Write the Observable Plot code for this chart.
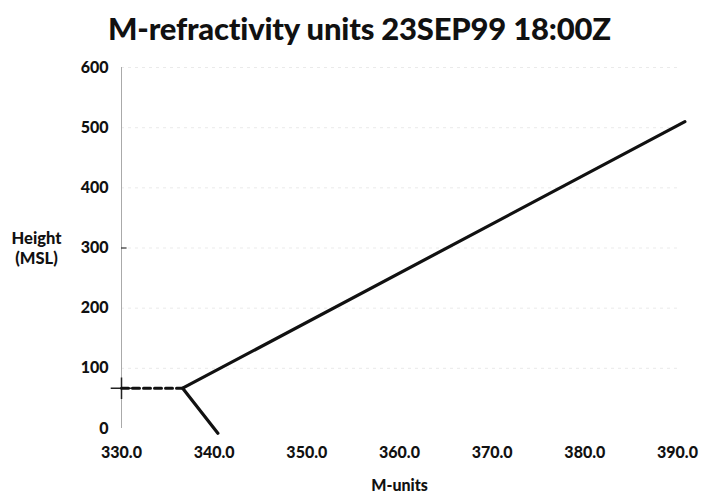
<!DOCTYPE html>
<html>
<head>
<meta charset="utf-8">
<script src="https://cdn.jsdelivr.net/npm/d3@7"></script>
<script src="https://cdn.jsdelivr.net/npm/@observablehq/plot@0.6"></script>
<style>
  html, body { margin: 0; padding: 0; background: #fff; }
  #title { height: 55px; box-sizing: border-box; padding-top: 12px; text-align: center; padding-left: 14px;
    font-family: Lato, "Open Sans", sans-serif; font-weight: 900; font-size: 31px; line-height: 32px; color: #111; letter-spacing: -0.2px; }
  #chart svg { display: block; }
</style>
</head>
<body>
<div id="title">M-refractivity units 23SEP99 18:00Z</div>
<div id="chart"></div>
<script>
// Data
const xTicks = [330, 340, 350, 360, 370, 380, 390];
const yTicks = [0, 100, 200, 300, 400, 500, 600];
const profileM = [340.4, 336.6, 390.8];   // M-units
const profileH = [-8, 67, 510];           // height (MSL)
const trapM = [330, 336.6];               // dashed segment
const trapH = [67, 67];
const markerM = [330];
const markerH = [67];
const xLabel = "M-units";
const yLabel = "Height\n(MSL)";

const profile = profileM.map((m, i) => ({m, h: profileH[i]}));
const trap = trapM.map((m, i) => ({m, h: trapH[i]}));
const marker = markerM.map((m, i) => ({m, h: markerH[i]}));

const chart = Plot.plot({
  width: 705,
  height: 440,
  marginTop: 12,
  marginBottom: 67,
  marginLeft: 121,
  marginRight: 28,
  style: {fontFamily: "Lato, 'Open Sans', sans-serif", fontWeight: "900", fontSize: "16px", color: "#111", overflow: "visible"},
  x: {type: "linear", domain: [330, 390], ticks: xTicks, tickFormat: d => d.toFixed(1)},
  y: {type: "linear", domain: [0, 600], ticks: yTicks},
  marks: [
    Plot.ruleY(yTicks.slice(1), {stroke: "#bbb", strokeOpacity: 0.3, strokeDasharray: "3,4"}),
    Plot.ruleX([330], {y1: 0, y2: 600, stroke: "#aaa", strokeWidth: 1}),
    Plot.axisX({ticks: xTicks, tickFormat: d => d.toFixed(1), tickSize: 0, tickPadding: 18,
      label: xLabel, labelAnchor: "center", labelOffset: 62, labelArrow: "none", fontSize: 16}),
    Plot.axisY({ticks: yTicks, tickSize: 0, tickPadding: 13, label: null, fontSize: 16}),
    Plot.text([yLabel], {frameAnchor: "left", dx: -85, textAnchor: "middle", fontSize: 16.5, lineHeight: 1.2}),
    Plot.ruleY([300], {x1: 330, x2: 330.6, stroke: "#333", strokeWidth: 1.2}),
    Plot.dot(marker, {x: "m", y: "h", symbol: "plus", r: 7, stroke: "#222", strokeWidth: 1.5}),
    Plot.line(trap, {x: "m", y: "h", stroke: "#111", strokeWidth: 3, strokeDasharray: "7,4"}),
    Plot.line(profile, {x: "m", y: "h", stroke: "#111", strokeWidth: 3.2, clip: false})
  ]
});
document.getElementById("chart").appendChild(chart);
</script>
</body>
</html>
